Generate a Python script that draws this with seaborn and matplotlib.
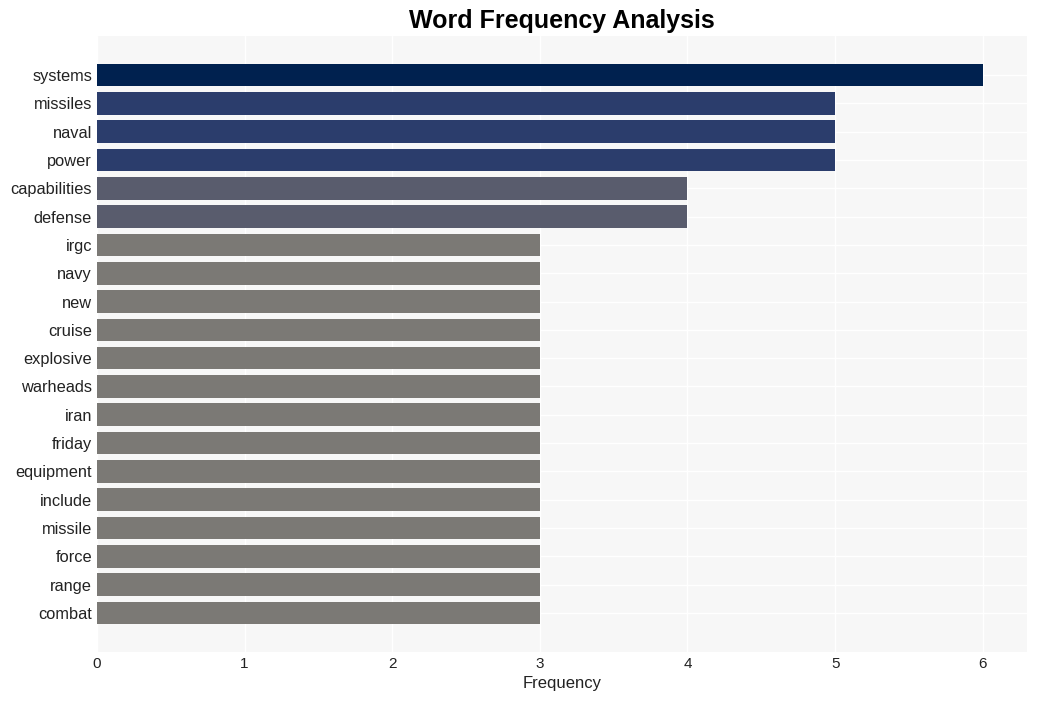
import matplotlib
matplotlib.use("Agg")
import matplotlib.pyplot as plt
import seaborn as sns
import pandas as pd

words = ["systems", "missiles", "naval", "power", "capabilities", "defense",
         "irgc", "navy", "new", "cruise", "explosive", "warheads", "iran",
         "friday", "equipment", "include", "missile", "force", "range", "combat"]
counts = [6, 5, 5, 5, 4, 4, 3, 3, 3, 3, 3, 3, 3, 3, 3, 3, 3, 3, 3, 3]
count_colors = {6: "#00214f", 5: "#2b3d6c", 4: "#595c6d", 3: "#7b7975"}

sns.set_theme(style="whitegrid")
plt.rcParams["font.family"] = ["Liberation Sans", "DejaVu Sans"]

df = pd.DataFrame({"word": words, "count": counts})
palette = [count_colors[c] for c in counts]

fig = plt.figure(figsize=(10.37, 7.01), dpi=100)
ax = fig.add_axes([0.0935, 0.0699, 0.8969, 0.8787])
ax.set_facecolor("#f7f7f7")
sns.barplot(data=df, x="count", y="word", hue="word", palette=palette,
            legend=False, ax=ax, width=0.8, saturation=1, linewidth=0)
ax.set_xlim(0, 6.3)
ax.set_ylim(len(words) - 1 + 1.38, -1.38)
ax.grid(True, color="white", linewidth=1)
ax.set_axisbelow(True)
for s in ax.spines.values():
    s.set_visible(False)
ax.set_xlabel("Frequency", fontsize=12, color="#222222", labelpad=4)
ax.set_ylabel("")
ax.tick_params(axis="y", labelsize=11.8, colors="#222222", pad=3.5, length=0)
ax.tick_params(axis="x", labelsize=11, colors="#222222", length=0)
ax.set_title("Word Frequency Analysis", fontsize=18, fontweight="bold",
             color="black", pad=6)
fig.savefig("out.png", dpi=100)
